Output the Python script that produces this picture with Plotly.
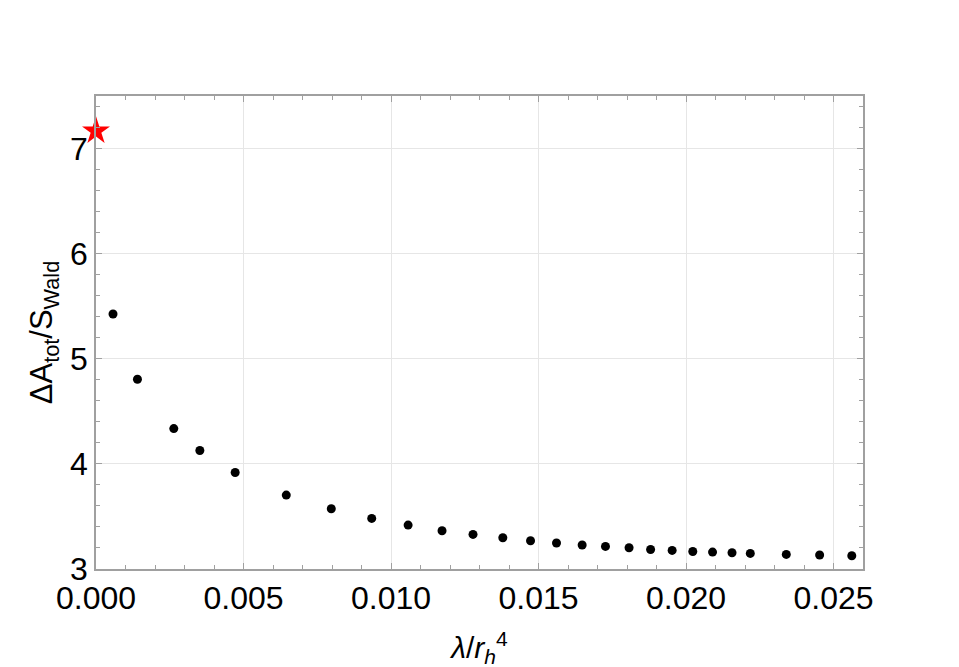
import plotly.graph_objects as go

# Data
lam = [0.000577, 0.001405, 0.002637, 0.00352, 0.004718, 0.00645,
       0.007976, 0.009346, 0.01058, 0.01173, 0.01278, 0.01379, 0.01473,
       0.01561, 0.01648, 0.01727, 0.01807, 0.0188, 0.01953, 0.02023,
       0.0209, 0.02156, 0.02218, 0.0234, 0.02453, 0.02562]
ratio = [5.426, 4.805, 4.336, 4.127, 3.918, 3.703,
         3.573, 3.481, 3.418, 3.364, 3.329, 3.297, 3.269,
         3.247, 3.228, 3.215, 3.202, 3.186, 3.177, 3.167,
         3.161, 3.155, 3.148, 3.139, 3.133, 3.126]
star_x = [0.0]
star_y = [7.167]

x_ticks = [0.0, 0.005, 0.010, 0.015, 0.020, 0.025]
x_ticklabels = ["0.000", "0.005", "0.010", "0.015", "0.020", "0.025"]
y_ticks = [3, 4, 5, 6, 7]

FONT = "Liberation Sans, Arial, sans-serif"
frame = "#a0a0a0"

fig = go.Figure()
fig.add_trace(go.Scatter(x=lam, y=ratio, mode="markers",
                         marker=dict(color="black", size=9),
                         showlegend=False, cliponaxis=False))
fig.add_trace(go.Scatter(x=star_x, y=star_y, mode="markers",
                         marker=dict(color="red", size=21, symbol="star"),
                         showlegend=False, cliponaxis=False))

fig.update_layout(
    width=959, height=667,
    margin=dict(l=88, r=104, t=88, b=106),
    paper_bgcolor="white", plot_bgcolor="white",
    font=dict(family=FONT, color="black"),
)
fig.update_xaxes(
    range=[0, 0.026], tickvals=x_ticks, ticktext=x_ticklabels,
    automargin=False,
    showline=True, linecolor=frame, linewidth=1.5, mirror="ticks",
    ticks="inside", ticklen=6, tickcolor=frame,
    showgrid=True, gridcolor="#e6e6e6", gridwidth=1, zeroline=False,
    tickfont=dict(size=32, family=FONT),
    minor=dict(ticks="inside", dtick=0.001, ticklen=4, tickcolor=frame, showgrid=False),
    title=dict(text="<i>λ</i>/<i>r<sub>h</sub></i><sup>4</sup>", font=dict(size=30, family=FONT), standoff=22),
)
fig.update_yaxes(
    range=[3, 7.5], tickvals=y_ticks,
    automargin=False,
    showline=True, linecolor=frame, linewidth=1.5, mirror="ticks",
    ticks="inside", ticklen=6, tickcolor=frame,
    showgrid=True, gridcolor="#e6e6e6", gridwidth=1, zeroline=False,
    tickfont=dict(size=32, family=FONT),
    minor=dict(ticks="inside", dtick=0.2, ticklen=4, tickcolor=frame, showgrid=False),
    title=dict(text="ΔA<sub>tot</sub>/S<sub>Wald</sub>", font=dict(size=31, family=FONT), standoff=8),
)

fig.write_html("out.html")
